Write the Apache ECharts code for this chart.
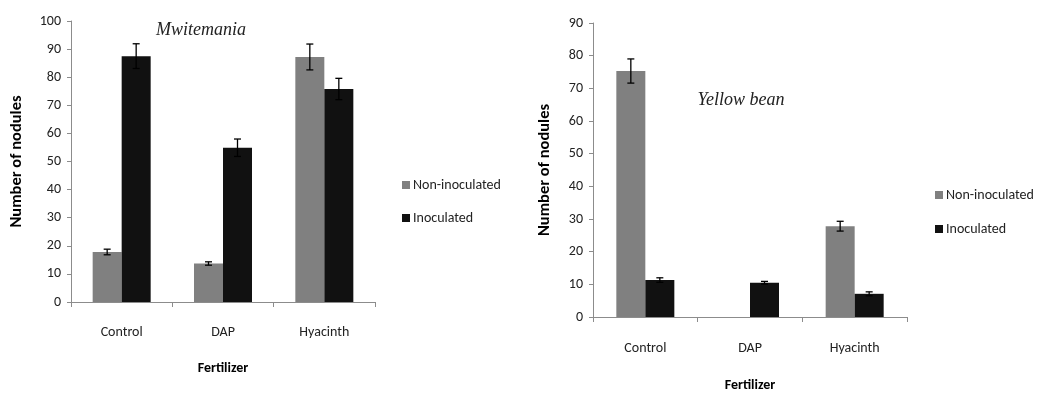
<!DOCTYPE html>
<html>
<head>
<meta charset="utf-8">
<script src="https://cdn.jsdelivr.net/npm/echarts@6/dist/echarts.min.js"></script>
<style>html,body{margin:0;padding:0;background:#fff;}#c{width:1039px;height:394px;}</style>
</head>
<body>
<div id="c"></div>
<script>
const categories = ['Control', 'DAP', 'Hyacinth'];
const seriesNames = ['Non-inoculated', 'Inoculated'];
// Mwitemania
const mwNonInoc = [17.8, 13.7, 87.2];
const mwNonInocErr = [1.0, 0.6, 4.6];
const mwInoc = [87.5, 54.9, 75.8];
const mwInocErr = [4.4, 3.1, 3.8];
// Yellow bean
const ybNonInoc = [75.3, 0, 27.8];
const ybNonInocErr = [3.7, 0, 1.5];
const ybInoc = [11.3, 10.5, 7.1];
const ybInocErr = [0.7, 0.4, 0.6];
const mwTicks = {min: 0, max: 100, interval: 10};
const ybTicks = {min: 0, max: 90, interval: 10};

const FONT = "Carlito, 'Liberation Sans Narrow', 'Open Sans', sans-serif";
const GREY = '#808080', BLACK = '#111111', AXIS = '#8c8c8c';
const BW = 29;

function errSeries(idx, means, errs, side) {
  return {
    type: 'custom', xAxisIndex: idx, yAxisIndex: idx, silent: true, z: 10,
    data: means.map((m, i) => [i, m, errs[i]]),
    renderItem: function (params, api) {
      const e = api.value(2);
      if (!e) return null;
      const c = api.value(0), m = api.value(1);
      const off = side * BW / 2;
      const hi = api.coord([c, m + e]);
      const lo = api.coord([c, m - e]);
      const x = hi[0] + off, cap = 3.5;
      const st = {stroke: '#000', lineWidth: 1.3};
      return {type: 'group', children: [
        {type: 'line', shape: {x1: x, y1: hi[1], x2: x, y2: lo[1]}, style: st},
        {type: 'line', shape: {x1: x - cap, y1: hi[1], x2: x + cap, y2: hi[1]}, style: st},
        {type: 'line', shape: {x1: x - cap, y1: lo[1], x2: x + cap, y2: lo[1]}, style: st}
      ]};
    }
  };
}

function xAxis(idx, gap, margin) {
  return {
    type: 'category', gridIndex: idx, data: categories,
    name: 'Fertilizer', nameLocation: 'middle', nameGap: gap,
    nameTextStyle: {fontFamily: FONT, fontSize: 14, fontWeight: 'bold', color: '#000'},
    axisLine: {lineStyle: {color: AXIS}},
    axisTick: {show: true, length: 5, lineStyle: {color: AXIS}},
    axisLabel: {fontFamily: FONT, fontSize: 14, color: '#222', margin: margin}
  };
}
function yAxis(idx, t, gap) {
  return {
    type: 'value', gridIndex: idx, min: t.min, max: t.max, interval: t.interval,
    name: 'Number of nodules', nameLocation: 'middle', nameGap: gap,
    nameTextStyle: {fontFamily: FONT, fontSize: 16.5, fontWeight: 'bold', color: '#000'},
    splitLine: {show: false},
    axisLine: {show: true, lineStyle: {color: AXIS}},
    axisTick: {show: true, length: 4, lineStyle: {color: AXIS}},
    axisLabel: {fontFamily: FONT, fontSize: 14, color: '#222', margin: 10}
  };
}
function legend(idx, left, top, gap) {
  return {
    show: true, orient: 'vertical', left: left, top: top, itemWidth: 8, itemHeight: 8, itemGap: gap,
    icon: 'rect', selectedMode: false,
    textStyle: {fontFamily: FONT, fontSize: 14, color: '#222', padding: [0, 0, 0, -2]},
    data: seriesNames.map(n => ({name: idx ? n + ' ' : n}))
  };
}
function bars(idx, nonI, inoc) {
  const sfx = idx ? ' ' : '';
  return [
    {type: 'bar', name: seriesNames[0] + sfx, xAxisIndex: idx, yAxisIndex: idx, data: nonI, barWidth: BW, barGap: '0%', itemStyle: {color: GREY}},
    {type: 'bar', name: seriesNames[1] + sfx, xAxisIndex: idx, yAxisIndex: idx, data: inoc, barWidth: BW, barGap: '0%', itemStyle: {color: BLACK}}
  ];
}

const chart = echarts.init(document.getElementById('c'), null, {renderer: 'canvas'});
chart.setOption({
  animation: false,
  backgroundColor: '#fff',
  color: [GREY, BLACK],
  grid: [
    {left: 71, right: 664, top: 21, bottom: 92, outerBoundsMode: 'none', containLabel: false},
    {left: 593, right: 132, top: 23, bottom: 77, outerBoundsMode: 'none', containLabel: false}
  ],
  xAxis: [xAxis(0, 59, 23), xAxis(1, 61, 24)],
  yAxis: [yAxis(0, mwTicks, 46), yAxis(1, ybTicks, 40)],
  legend: [legend(0, 397, 173, 19), legend(1, 930, 183, 20)],
  graphic: [
    {type: 'text', x: 201, y: 30, style: {text: 'Mwitemania', font: "italic 18px 'Liberation Serif', serif", fill: '#222', textAlign: 'center', textVerticalAlign: 'middle'}},
    {type: 'text', x: 741, y: 100, style: {text: 'Yellow bean', font: "italic 18px 'Liberation Serif', serif", fill: '#222', textAlign: 'center', textVerticalAlign: 'middle'}}
  ],
  series: [
    ...bars(0, mwNonInoc, mwInoc),
    ...bars(1, ybNonInoc, ybInoc),
    errSeries(0, mwNonInoc, mwNonInocErr, -1),
    errSeries(0, mwInoc, mwInocErr, 1),
    errSeries(1, ybNonInoc, ybNonInocErr, -1),
    errSeries(1, ybInoc, ybInocErr, 1)
  ]
});
</script>
</body>
</html>
